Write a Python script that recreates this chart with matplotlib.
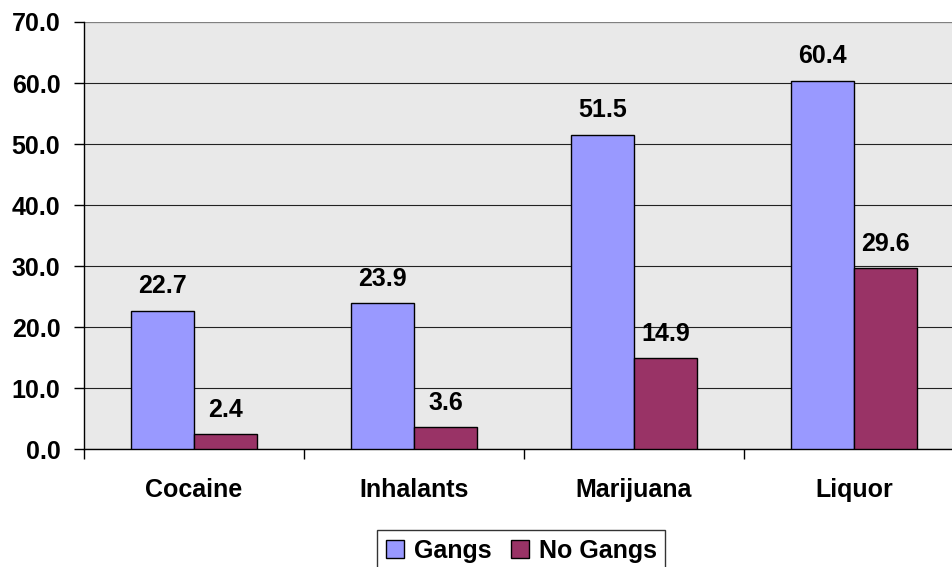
import matplotlib.pyplot as plt
import numpy as np

# 数据
categories = ["Cocaine", "Inhalants", "Marijuana", "Liquor"]
gangs = [22.7, 23.9, 51.5, 60.4]
no_gangs = [2.4, 3.6, 14.9, 29.6]
series_names = ["Gangs", "No Gangs"]
yticks = [0, 10, 20, 30, 40, 50, 60, 70]

plt.rcParams['font.family'] = ['Liberation Sans', 'DejaVu Sans']
plt.rcParams['font.weight'] = 'bold'
FS = 18

fig = plt.figure(figsize=(9.52, 5.67), dpi=100)
ax = fig.add_axes([0.0882, 0.2081, 0.9244, 0.7531])
ax.set_facecolor('#E9E9E9')

x = np.arange(len(categories))
w = 0.286
b1 = ax.bar(x - w / 2, gangs, w, color='#9999FF', edgecolor='black', linewidth=1, label=series_names[0], zorder=3)
b2 = ax.bar(x + w / 2, no_gangs, w, color='#993366', edgecolor='black', linewidth=1, label=series_names[1], zorder=3)

for bars in (b1, b2):
    for rect in bars:
        h = rect.get_height()
        ax.annotate(f"{h:.1f}", (rect.get_x() + rect.get_width() / 2, h),
                    xytext=(0, 9), textcoords='offset points',
                    ha='center', va='bottom', fontsize=FS, fontweight='bold')

ax.set_xlim(-0.5, len(categories) - 0.5)
ax.set_ylim(0, 70)
ax.set_yticks(yticks)
ax.set_yticklabels([f"{v:.1f}" for v in yticks], fontsize=FS, fontweight='bold')
ax.yaxis.grid(True, color='#222222', linewidth=0.8, zorder=1)
ax.set_axisbelow(True)

# 类别分隔刻度
ax.set_xticks(np.arange(len(categories) + 1) - 0.5)
ax.set_xticklabels([])
ax.set_xticks(x, minor=True)
ax.set_xticklabels(categories, minor=True, fontsize=FS, fontweight='bold')
ax.tick_params(axis='x', which='major', length=7, width=1, direction='out')
ax.tick_params(axis='x', which='minor', length=0, pad=21)
ax.tick_params(axis='y', length=7, width=1, direction='out', pad=10)

for s in ('top', 'right'):
    ax.spines[s].set_visible(False)
ax.axhline(70, color='#808080', linewidth=1.5, zorder=2)
ax.spines['left'].set_linewidth(1)
ax.spines['bottom'].set_linewidth(1)

leg = ax.legend(loc='upper center', bbox_to_anchor=(0.497, -0.19), ncol=2,
                frameon=True, fancybox=False, edgecolor='black',
                prop={'size': FS, 'weight': 'bold'},
                handlelength=0.7, handleheight=0.7, handletextpad=0.4,
                columnspacing=0.8, borderpad=0.35, borderaxespad=0)
leg.get_frame().set_linewidth(1)

fig.savefig('out.png', dpi=100, facecolor='white')
